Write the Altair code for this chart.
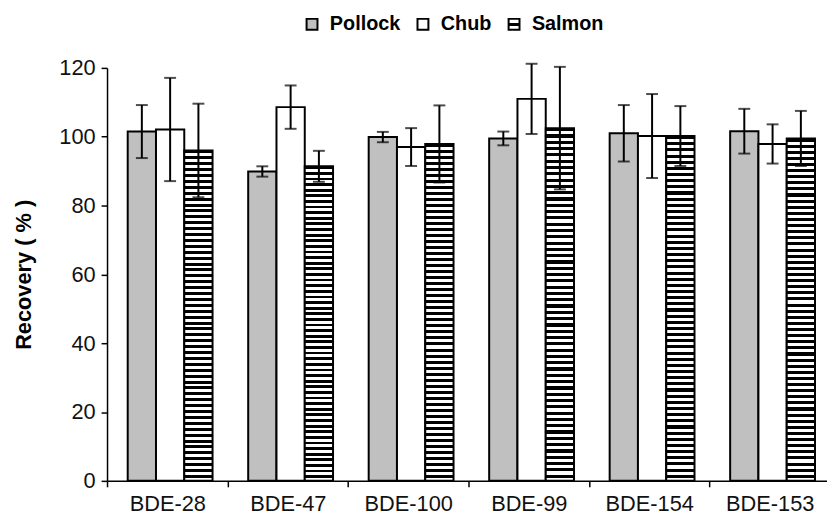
import altair as alt
import pandas as pd

congeners = ["BDE-28", "BDE-47", "BDE-100", "BDE-99", "BDE-154", "BDE-153"]
series = ["Pollock", "Chub", "Salmon"]
pollock = [101.5, 89.9, 99.9, 99.5, 101.0, 101.6]
pollock_err = [7.7, 1.5, 1.5, 2.0, 8.2, 6.5]
chub = [102.1, 108.6, 97.0, 111.0, 100.2, 97.9]
chub_err = [15.0, 6.3, 5.5, 10.2, 12.2, 5.7]
salmon = [96.0, 91.4, 97.9, 102.5, 100.2, 99.5]
salmon_err = [13.6, 4.5, 11.2, 17.8, 8.7, 8.0]
y_ticks = [0, 20, 40, 60, 80, 100, 120]

rows = []
for i, c in enumerate(congeners):
    for s, vals, errs in [("Pollock", pollock, pollock_err),
                          ("Chub", chub, chub_err),
                          ("Salmon", salmon, salmon_err)]:
        rows.append({"congener": c, "series": s, "value": vals[i], "err": errs[i]})
df = pd.DataFrame(rows)

# horizontal stripe fill for Salmon bars (style only)
N_STRIPES = 56
stops = []
for k in range(N_STRIPES):
    a = k / N_STRIPES
    b = (k + 0.5) / N_STRIPES
    c2 = (k + 1) / N_STRIPES
    stops += [{"offset": a, "color": "black"}, {"offset": b, "color": "black"},
              {"offset": b, "color": "white"}, {"offset": c2, "color": "white"}]
bar_stripes = {"gradient": "linear", "x1": 0, "y1": 0, "x2": 0, "y2": 1, "stops": stops}

legend_stripe_expr = ("{gradient: 'linear', x1: 0, y1: 0, x2: 0, y2: 1, stops: ["
                      "{offset: 0, color: 'white'}, {offset: 0.38, color: 'white'},"
                      "{offset: 0.38, color: 'black'}, {offset: 0.62, color: 'black'},"
                      "{offset: 0.62, color: 'white'}, {offset: 1, color: 'white'}]}")

FONT = "Liberation Sans"

x_enc = alt.X("congener:N", sort=congeners,
              scale=alt.Scale(paddingInner=0, paddingOuter=0, range=[0, 730]),
              axis=alt.Axis(title=None, tickBand="extent", labelAngle=0,
                            labelFont=FONT, labelFontSize=22, labelColor="#111",
                            labelPadding=7, tickSize=6, tickColor="black",
                            tickWidth=1.5, domainColor="black", domainWidth=1.5))
xo_enc = alt.XOffset("series:N", sort=series,
                     scale=alt.Scale(paddingInner=0, paddingOuter=0.63, align=0.58))
y_enc = alt.Y("value:Q", scale=alt.Scale(domain=[0, 120], nice=False),
              axis=alt.Axis(title="Recovery ( % )", values=y_ticks, grid=False,
                            labelFont=FONT, labelFontSize=22, labelColor="#111",
                            labelPadding=6, tickSize=6, tickColor="black",
                            tickWidth=1.5, domainColor="black", domainWidth=1.5,
                            titleFont=FONT, titleFontSize=22, titleFontWeight="bold",
                            titleColor="black", titlePadding=24))

base = alt.Chart(df)

bars = base.mark_bar(stroke="black", strokeWidth=2).encode(
    x=x_enc,
    xOffset=xo_enc,
    y=y_enc,
    fill=alt.condition(
        "datum.series === 'Salmon'",
        alt.value(bar_stripes),
        alt.Fill("series:N", sort=series,
                 scale=alt.Scale(domain=series,
                                 range=["#c0c0c0", "#ffffff", alt.ExprRef(legend_stripe_expr)]),
                 legend=alt.Legend(title=None, orient="none", legendX=197, legendY=-54,
                                   direction="horizontal", symbolType="square",
                                   symbolSize=121, symbolStrokeColor="black",
                                   symbolStrokeWidth=2, labelFont=FONT,
                                   labelFontSize=20, labelFontWeight="bold",
                                   labelColor="black", labelOffset=8,
                                   columnPadding=12)),
    ),
)

err = base.transform_calculate(
    lo="datum.value - datum.err", hi="datum.value + datum.err"
)

rules = err.mark_rule(color="black", strokeWidth=2).encode(
    x=alt.X("congener:N", sort=congeners),
    xOffset=alt.XOffset("series:N", sort=series),
    y=alt.Y("lo:Q"),
    y2="hi:Q",
)
cap_lo = err.mark_tick(color="black", thickness=2, size=12).encode(
    x=alt.X("congener:N", sort=congeners),
    xOffset=alt.XOffset("series:N", sort=series),
    y=alt.Y("lo:Q"),
)
cap_hi = err.mark_tick(color="black", thickness=2, size=12).encode(
    x=alt.X("congener:N", sort=congeners),
    xOffset=alt.XOffset("series:N", sort=series),
    y=alt.Y("hi:Q"),
)

chart = alt.layer(bars, rules, cap_lo, cap_hi).properties(
    width=727, height=417,
    autosize=alt.AutoSizeParams(type="none"),
    padding={"left": 100, "top": 58, "right": 0, "bottom": 33},
    background="white",
).configure_view(stroke=None)

chart.save("out.html", embed_options={"renderer": "svg", "actions": False})
